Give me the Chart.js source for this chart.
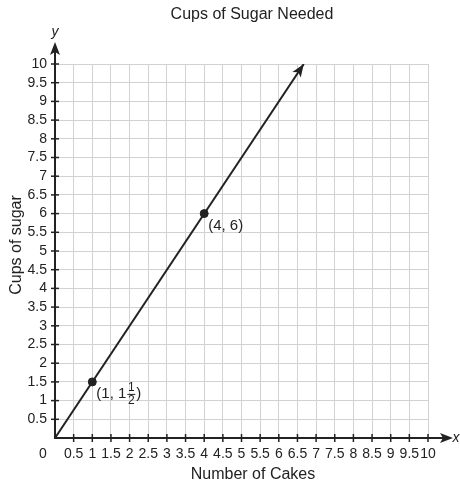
<!DOCTYPE html>
<html>
<head>
<meta charset="utf-8">
<script src="https://cdn.jsdelivr.net/npm/chart.js@4/dist/chart.umd.min.js"></script>
<style>
  body { margin: 0; background: #fff; }
  canvas { display: block; }
</style>
</head>
<body>
<canvas id="chart" width="460" height="490"></canvas>
<script>
const chartTitle = 'Cups of Sugar Needed';
const xTitle = 'Number of Cakes';
const yTitle = 'Cups of sugar';

const axisMin = 0;
const axisMax = 10;
const axisStep = 0.5;

// line y = 1.5x, from origin to the arrow tip at the top of the grid
const lineX = [0, 6.67];
const lineY = [0, 10];

// marked points and their labels
const pointX = [1, 4];
const pointY = [1.5, 6];
const pointLabels = [
  { text: '(1, 1', num: '1', den: '2', close: ')' },
  { text: '(4, 6)' },
];

const FONT = '"Liberation Sans", Arial, sans-serif';
const INK = '#222';

function fmt(v) {
  return v === 0 ? '' : String(v);
}

const extras = {
  id: 'extras',
  afterDraw(chart) {
    const { ctx, chartArea: a, scales } = chart;
    const xs = scales.x, ys = scales.y;
    const ox = xs.getPixelForValue(0), oy = ys.getPixelForValue(0);
    ctx.save();
    ctx.strokeStyle = INK;
    ctx.fillStyle = INK;

    // tick marks crossing the axes
    ctx.lineWidth = 1.5;
    for (let v = axisMin + axisStep; v <= axisMax + 1e-9; v += axisStep) {
      const px = xs.getPixelForValue(v);
      ctx.beginPath(); ctx.moveTo(px, oy - 4); ctx.lineTo(px, oy + 4); ctx.stroke();
      const py = ys.getPixelForValue(v);
      ctx.beginPath(); ctx.moveTo(ox - 4, py); ctx.lineTo(ox + 4, py); ctx.stroke();
    }

    // axis extensions with arrows
    ctx.lineWidth = 2;
    ctx.beginPath(); ctx.moveTo(a.right, oy); ctx.lineTo(446, oy); ctx.stroke();
    ctx.beginPath(); ctx.moveTo(453, oy); ctx.lineTo(440, oy - 5); ctx.lineTo(443, oy); ctx.lineTo(440, oy + 5); ctx.closePath(); ctx.fill();
    ctx.beginPath(); ctx.moveTo(ox, a.top); ctx.lineTo(ox, 50); ctx.stroke();
    ctx.beginPath(); ctx.moveTo(ox, 42); ctx.lineTo(ox - 5, 55); ctx.lineTo(ox, 52); ctx.lineTo(ox + 5, 55); ctx.closePath(); ctx.fill();

    ctx.font = 'italic 14px ' + FONT;
    ctx.textAlign = 'center';
    ctx.textBaseline = 'middle';
    ctx.fillText('x', 456, oy);
    ctx.fillText('y', ox, 32);

    // arrowhead at the end of the line
    const meta = chart.getDatasetMeta(0).data;
    const p0 = meta[meta.length - 2], p1 = meta[meta.length - 1];
    const ang = Math.atan2(p1.y - p0.y, p1.x - p0.x);
    ctx.save();
    ctx.translate(p1.x, p1.y);
    ctx.rotate(ang);
    ctx.beginPath(); ctx.moveTo(0, 0); ctx.lineTo(-13, -5); ctx.lineTo(-10, 0); ctx.lineTo(-13, 5); ctx.closePath(); ctx.fill();
    ctx.restore();

    // origin label
    ctx.font = '14px ' + FONT;
    ctx.textAlign = 'center';
    ctx.textBaseline = 'top';
    ctx.fillText('0', ox - 12, oy + 9);

    // point labels
    const pts = chart.getDatasetMeta(1).data;
    pts.forEach((pt, i) => {
      const lab = pointLabels[i];
      let x = pt.x + 4, y = pt.y + 12;
      ctx.font = '15px ' + FONT;
      ctx.textAlign = 'left';
      ctx.textBaseline = 'middle';
      ctx.fillText(lab.text, x, y);
      if (lab.num) {
        x += ctx.measureText(lab.text).width + 1;
        ctx.font = '12px ' + FONT;
        ctx.textAlign = 'center';
        const w = 8;
        ctx.fillText(lab.num, x + w / 2, y - 6);
        ctx.fillText(lab.den, x + w / 2, y + 7);
        ctx.lineWidth = 1;
        ctx.beginPath(); ctx.moveTo(x, y + 0.5); ctx.lineTo(x + w, y + 0.5); ctx.stroke();
        ctx.font = '15px ' + FONT;
        ctx.textAlign = 'left';
        ctx.fillText(lab.close, x + w + 1, y);
      }
    });

    // titles
    ctx.font = '16px ' + FONT;
    ctx.textAlign = 'center';
    ctx.textBaseline = 'middle';
    ctx.fillText(chartTitle, 252, 15);
    ctx.fillText(xTitle, 253, 475);
    ctx.save();
    ctx.translate(17, 245);
    ctx.rotate(-Math.PI / 2);
    ctx.fillText(yTitle, 0, 0);
    ctx.restore();

    ctx.restore();
  },
};

const scaleBase = {
  type: 'linear',
  min: axisMin,
  max: axisMax,
  grid: { color: '#d2d2d2', lineWidth: 1, drawTicks: false },
  border: { color: INK, width: 2 },
};

new Chart(document.getElementById('chart'), {
  type: 'scatter',
  data: {
    datasets: [
      {
        type: 'line',
        data: lineX.map((x, i) => ({ x, y: lineY[i] })),
        borderColor: INK,
        borderWidth: 2,
        pointRadius: 0,
        fill: false,
      },
      {
        data: pointX.map((x, i) => ({ x, y: pointY[i] })),
        backgroundColor: INK,
        borderColor: INK,
        pointRadius: 4,
      },
    ],
  },
  options: {
    responsive: false,
    animation: false,
    layout: { padding: { left: 0, right: 32, top: 64, bottom: 0 } },
    plugins: { legend: { display: false }, title: { display: false }, tooltip: { enabled: false } },
    scales: {
      x: {
        ...scaleBase,
        position: 'bottom',
        ticks: { stepSize: axisStep, autoSkip: false, maxRotation: 0, padding: 8, color: INK, font: { family: FONT, size: 14 }, callback: fmt },
        afterFit: (s) => { s.height = 52; },
      },
      y: {
        ...scaleBase,
        position: 'left',
        ticks: { stepSize: axisStep, autoSkip: false, padding: 8, color: INK, font: { family: FONT, size: 14 }, callback: fmt },
        afterFit: (s) => { s.width = 55; },
      },
    },
  },
  plugins: [extras],
});
</script>
</body>
</html>
